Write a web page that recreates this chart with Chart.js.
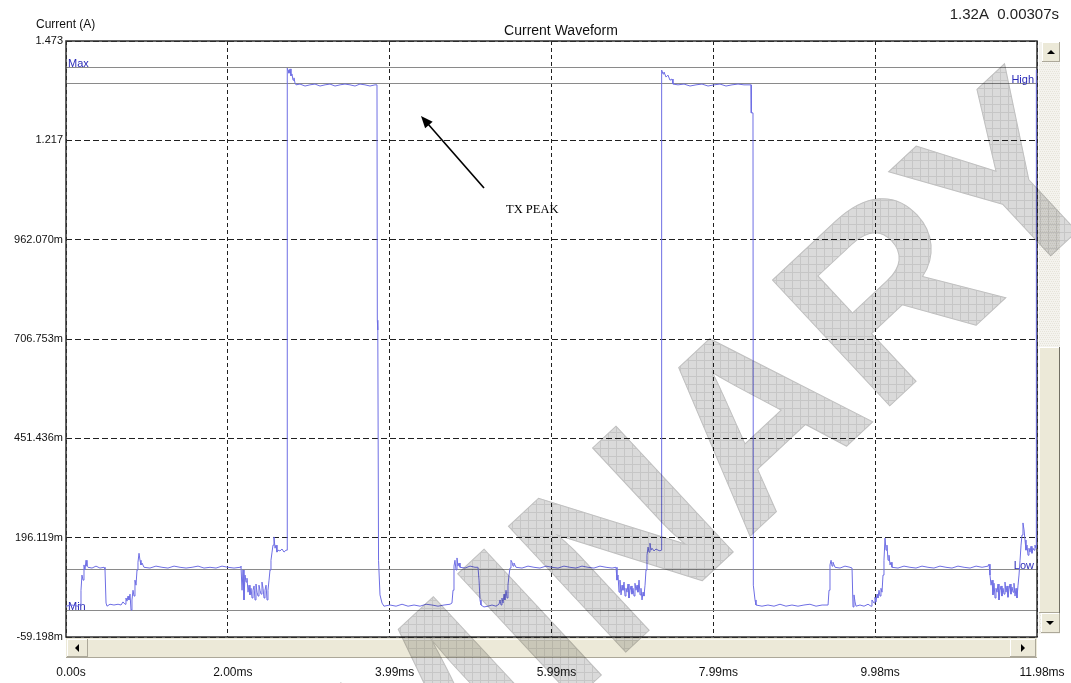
<!DOCTYPE html>
<html>
<head>
<meta charset="utf-8">
<title>Current Waveform</title>
<script src="https://cdn.jsdelivr.net/npm/chart.js@4.4.1/dist/chart.umd.min.js"></script>
<style>
  html, body { margin: 0; padding: 0; background: #fff; }
  canvas { display: block; }
</style>
</head>
<body>
<canvas id="scope" width="1071" height="683"></canvas>
<script>
// ---- captured samples: time (ms) and supply current (A) ----
const timeMs = [
  0.000, 0.074, 0.148, 0.173, 0.185, 0.197, 0.210, 0.222, 0.234, 0.247, 0.259, 0.271, 0.321, 0.370, 0.419, 0.469, 0.481,
  0.494, 0.506, 0.543, 0.592, 0.642, 0.679, 0.703, 0.728, 0.740, 0.753, 0.765, 0.777, 0.790, 0.802, 0.814, 0.827, 0.839,
  0.851, 0.864, 0.876, 0.888, 0.901, 0.913, 0.925, 0.938, 0.962, 1.036, 1.110, 1.184, 1.258, 1.333, 1.407, 1.481, 1.555,
  1.629, 1.703, 1.777, 1.851, 1.925, 1.999, 2.073, 2.147, 2.159, 2.172, 2.184, 2.196, 2.209, 2.221, 2.233, 2.246, 2.258,
  2.270, 2.283, 2.295, 2.307, 2.320, 2.332, 2.344, 2.357, 2.369, 2.381, 2.394, 2.406, 2.418, 2.431, 2.443, 2.455, 2.468,
  2.480, 2.492, 2.505, 2.517, 2.529, 2.542, 2.554, 2.566, 2.579, 2.591, 2.603, 2.616, 2.640, 2.665, 2.690, 2.714, 2.727,
  2.730, 2.739, 2.751, 2.764, 2.776, 2.788, 2.801, 2.813, 2.825, 2.838, 2.887, 2.949, 3.010, 3.072, 3.134, 3.196, 3.257,
  3.319, 3.381, 3.442, 3.504, 3.566, 3.627, 3.689, 3.751, 3.812, 3.837, 3.841, 3.847, 3.856, 3.874, 3.899, 3.923, 3.998,
  4.072, 4.146, 4.220, 4.294, 4.368, 4.442, 4.516, 4.590, 4.664, 4.738, 4.762, 4.775, 4.787, 4.799, 4.812, 4.824, 4.836,
  4.849, 4.861, 4.923, 4.985, 5.046, 5.083, 5.096, 5.108, 5.120, 5.157, 5.207, 5.256, 5.305, 5.342, 5.355, 5.367, 5.379,
  5.392, 5.404, 5.416, 5.429, 5.441, 5.453, 5.466, 5.478, 5.490, 5.503, 5.515, 5.527, 5.552, 5.626, 5.700, 5.774, 5.848,
  5.922, 5.996, 6.070, 6.144, 6.218, 6.292, 6.366, 6.440, 6.514, 6.588, 6.663, 6.737, 6.786, 6.798, 6.811, 6.823, 6.835,
  6.848, 6.860, 6.872, 6.885, 6.897, 6.909, 6.922, 6.934, 6.946, 6.959, 6.971, 6.983, 6.996, 7.008, 7.020, 7.033, 7.045,
  7.057, 7.070, 7.082, 7.094, 7.107, 7.119, 7.131, 7.144, 7.156, 7.168, 7.181, 7.193, 7.205, 7.218, 7.230, 7.255, 7.279,
  7.304, 7.329, 7.341, 7.345, 7.353, 7.366, 7.378, 7.403, 7.427, 7.452, 7.477, 7.489, 7.551, 7.625, 7.699, 7.773, 7.847,
  7.921, 7.995, 8.069, 8.143, 8.217, 8.291, 8.365, 8.439, 8.452, 8.455, 8.476, 8.480, 8.501, 8.513, 8.587, 8.661, 8.735,
  8.809, 8.883, 8.957, 9.031, 9.105, 9.179, 9.254, 9.328, 9.402, 9.414, 9.426, 9.439, 9.451, 9.463, 9.488, 9.550, 9.611,
  9.673, 9.698, 9.710, 9.722, 9.735, 9.747, 9.796, 9.846, 9.895, 9.932, 9.944, 9.969, 9.981, 9.994, 10.006, 10.018, 10.031,
  10.043, 10.055, 10.068, 10.080, 10.092, 10.105, 10.117, 10.129, 10.142, 10.154, 10.167, 10.179, 10.191, 10.265, 10.339,
  10.413, 10.487, 10.561, 10.635, 10.709, 10.783, 10.857, 10.931, 11.005, 11.080, 11.154, 11.228, 11.302, 11.376, 11.388,
  11.400, 11.413, 11.425, 11.437, 11.450, 11.462, 11.474, 11.487, 11.499, 11.511, 11.524, 11.536, 11.548, 11.561, 11.573,
  11.585, 11.598, 11.610, 11.622, 11.635, 11.647, 11.659, 11.672, 11.684, 11.696, 11.709, 11.721, 11.733, 11.746, 11.758,
  11.771, 11.783, 11.795, 11.807, 11.820, 11.832, 11.844, 11.857, 11.869, 11.881, 11.894, 11.906, 11.918, 11.931, 11.943,
  11.955, 11.968, 11.972, 11.980
];

const currentA = [
  0.020, 0.023, 0.020, 0.025, 0.061, 0.100, 0.087, 0.126, 0.113, 0.138, 0.123, 0.120, 0.118, 0.123, 0.118, 0.120, 0.115,
  0.028, 0.020, 0.025, 0.023, 0.025, 0.023, 0.031, 0.025, 0.041, 0.033, 0.046, 0.036, 0.051, 0.010, 0.036, 0.061, 0.046,
  0.087, 0.074, 0.113, 0.133, 0.156, 0.138, 0.126, 0.131, 0.120, 0.118, 0.123, 0.120, 0.118, 0.123, 0.120, 0.118, 0.120,
  0.123, 0.118, 0.120, 0.118, 0.123, 0.120, 0.118, 0.120, 0.123, 0.061, 0.113, 0.036, 0.100, 0.082, 0.092, 0.056, 0.074,
  0.049, 0.066, 0.041, 0.061, 0.072, 0.036, 0.077, 0.056, 0.046, 0.074, 0.061, 0.051, 0.082, 0.066, 0.041, 0.061, 0.074,
  0.036, 0.061, 0.087, 0.113, 0.138, 0.159, 0.177, 0.198, 0.169, 0.177, 0.159, 0.164, 0.162, 0.167, 0.159, 0.164, 0.164,
  1.403, 1.398, 1.390, 1.401, 1.383, 1.388, 1.372, 1.378, 1.365, 1.360, 1.362, 1.357, 1.360, 1.362, 1.357, 1.360, 1.362,
  1.357, 1.360, 1.362, 1.360, 1.357, 1.362, 1.360, 1.357, 1.360, 1.360, 0.755, 0.730, 0.138, 0.049, 0.028, 0.020, 0.023,
  0.020, 0.025, 0.020, 0.023, 0.020, 0.025, 0.023, 0.020, 0.023, 0.025, 0.028, 0.061, 0.123, 0.138, 0.113, 0.144, 0.123,
  0.131, 0.120, 0.118, 0.123, 0.120, 0.120, 0.087, 0.036, 0.023, 0.018, 0.020, 0.023, 0.020, 0.025, 0.036, 0.023, 0.041,
  0.028, 0.051, 0.036, 0.061, 0.041, 0.074, 0.100, 0.118, 0.138, 0.133, 0.123, 0.131, 0.120, 0.118, 0.123, 0.120, 0.118,
  0.123, 0.120, 0.118, 0.123, 0.120, 0.118, 0.123, 0.120, 0.118, 0.123, 0.120, 0.118, 0.120, 0.087, 0.100, 0.056, 0.087,
  0.049, 0.074, 0.061, 0.082, 0.046, 0.066, 0.056, 0.077, 0.041, 0.061, 0.072, 0.051, 0.066, 0.046, 0.079, 0.061, 0.074,
  0.056, 0.087, 0.049, 0.066, 0.036, 0.056, 0.046, 0.074, 0.113, 0.151, 0.172, 0.159, 0.182, 0.164, 0.169, 0.162, 0.167,
  0.164, 0.162, 0.164, 1.396, 1.398, 1.388, 1.393, 1.380, 1.385, 1.372, 1.375, 1.362, 1.360, 1.362, 1.357, 1.360, 1.362,
  1.357, 1.360, 1.362, 1.357, 1.360, 1.362, 1.360, 1.360, 1.360, 1.288, 1.288, 0.074, 0.036, 0.023, 0.020, 0.023, 0.020,
  0.025, 0.020, 0.023, 0.020, 0.023, 0.025, 0.020, 0.023, 0.023, 0.061, 0.126, 0.138, 0.123, 0.133, 0.120, 0.118, 0.123,
  0.120, 0.118, 0.018, 0.049, 0.031, 0.020, 0.023, 0.020, 0.025, 0.020, 0.036, 0.028, 0.043, 0.031, 0.051, 0.041, 0.061,
  0.046, 0.066, 0.056, 0.100, 0.138, 0.195, 0.164, 0.177, 0.138, 0.151, 0.126, 0.133, 0.120, 0.118, 0.123,
  0.120, 0.118, 0.123, 0.120, 0.118, 0.123, 0.120, 0.118, 0.123, 0.120, 0.118, 0.123, 0.120, 0.123, 0.128,
  0.100, 0.074, 0.087, 0.049, 0.079, 0.041, 0.066, 0.056, 0.077, 0.036, 0.061, 0.072, 0.046, 0.066, 0.051,
  0.082, 0.056, 0.072, 0.043, 0.064, 0.077, 0.051, 0.069, 0.056, 0.079, 0.046, 0.066, 0.041, 0.074, 0.100,
  0.138, 0.177, 0.203, 0.234, 0.216, 0.190, 0.164, 0.177, 0.151, 0.169, 0.159, 0.174, 0.156, 0.169, 0.164,
  0.177, 0.169, 1.398, 1.398
];

// ---- axes ----
const xMinMs = 0;
const xMaxMs = 11.98;
const xTickValues = [0, 1.99667, 3.99333, 5.99, 7.98667, 9.98333, 11.98];
const xTickLabels = ['0.00s', '2.00ms', '3.99ms', '5.99ms', '7.99ms', '9.98ms', '11.98ms'];

const yMinA = -0.059198;
const yMaxA = 1.472704;
const yTickValues = [-0.059198, 0.196119, 0.451436, 0.706753, 0.962070, 1.217387, 1.472704];
const yTickLabels = ['-59.198m', '196.119m', '451.436m', '706.753m', '962.070m', '1.217', '1.473'];

// ---- measurement marker levels ----
const levelNames = ['Max', 'High', 'Low', 'Min'];
const levelValues = [1.406, 1.365, 0.115, 0.010];
const levelLabelSide = ['left', 'right', 'right', 'left'];

// ---- captions ----
const chartTitle = 'Current Waveform';
const yAxisTitle = 'Current (A)';
const cursorReadout = '1.32A  0.00307s';
const annotationText = 'TX PEAK';
const watermarkText = 'PRELIMINARY';

const UI_FONT = '"Liberation Sans", Arial, sans-serif';

// Windows-style 3D button face
function bevelBox(ctx, x, y, w, h) {
  ctx.fillStyle = '#ece9d8';
  ctx.fillRect(x, y, w, h);
  ctx.fillStyle = '#ffffff';
  ctx.fillRect(x, y, w, 1);
  ctx.fillRect(x, y, 1, h);
  ctx.fillStyle = '#aca899';
  ctx.fillRect(x, y + h - 1, w, 1);
  ctx.fillRect(x + w - 1, y, 1, h);
}

function triangle(ctx, cx, cy, dir) {
  ctx.fillStyle = '#000';
  ctx.beginPath();
  if (dir === 'up') { ctx.moveTo(cx - 4, cy + 2); ctx.lineTo(cx + 4, cy + 2); ctx.lineTo(cx, cy - 2); }
  if (dir === 'down') { ctx.moveTo(cx - 4, cy - 2); ctx.lineTo(cx + 4, cy - 2); ctx.lineTo(cx, cy + 2); }
  if (dir === 'left') { ctx.moveTo(cx + 2, cy - 4); ctx.lineTo(cx + 2, cy + 4); ctx.lineTo(cx - 2, cy); }
  if (dir === 'right') { ctx.moveTo(cx - 2, cy - 4); ctx.lineTo(cx - 2, cy + 4); ctx.lineTo(cx + 2, cy); }
  ctx.closePath();
  ctx.fill();
}

const scopeDecor = {
  id: 'scopeDecor',
  beforeDatasetsDraw(chart) {
    const { ctx, chartArea: a, scales: { y } } = chart;
    ctx.save();
    // marker level lines
    ctx.strokeStyle = '#8a8a8a';
    ctx.lineWidth = 1.2;
    levelValues.forEach(v => {
      const py = Math.round(y.getPixelForValue(v)) + 0.5;
      ctx.beginPath();
      ctx.moveTo(a.left, py);
      ctx.lineTo(a.right, py);
      ctx.stroke();
    });
    ctx.font = '11px ' + UI_FONT;
    ctx.fillStyle = '#2a2ab8';
    ctx.textBaseline = 'alphabetic';
    levelNames.forEach((name, i) => {
      const py = Math.round(y.getPixelForValue(levelValues[i]));
      if (levelLabelSide[i] === 'right') {
        ctx.textAlign = 'right';
        ctx.fillText(name, a.right - 3, py);
      } else {
        ctx.textAlign = 'left';
        ctx.fillText(name, a.left + 2, py);
      }
    });
    // plot frame
    ctx.strokeStyle = '#303030';
    ctx.lineWidth = 1.5;
    ctx.strokeRect(a.left, a.top, a.right - a.left, a.bottom - a.top);
    ctx.restore();
  },
  afterDraw(chart) {
    const { ctx, chartArea: a, width, height } = chart;
    ctx.save();

    // horizontal scroll bar
    const hy = a.bottom + 1, hh = 20;
    ctx.fillStyle = '#ece9d8';
    ctx.fillRect(a.left, hy, a.right - a.left, hh);
    ctx.fillStyle = '#fbfaf6';
    ctx.fillRect(a.left + 22, hy + 1, a.right - a.left - 49, 1);
    ctx.fillStyle = '#aca899';
    ctx.fillRect(a.left, hy + hh - 1, a.right - a.left, 1);
    bevelBox(ctx, a.left + 1, hy + 1, 21, hh - 2);
    triangle(ctx, a.left + 11, hy + hh / 2, 'left');
    bevelBox(ctx, a.right - 27, hy + 1, 26, hh - 2);
    triangle(ctx, a.right - 14, hy + hh / 2, 'right');

    // vertical scroll bar
    const vx = a.right + 2, vw = 21;
    ctx.fillStyle = '#f4f3ee';
    ctx.fillRect(vx, a.top + 1, vw, a.bottom - a.top - 4);
    ctx.fillStyle = '#e6e4da';
    for (let yy = a.top + 22; yy < a.bottom - 4; yy += 2) {
      for (let xx = vx + ((yy >> 1) & 1); xx < vx + vw; xx += 2) ctx.fillRect(xx, yy, 1, 1);
    }
    bevelBox(ctx, vx + 3, a.top + 1, 18, 20);
    triangle(ctx, vx + 12, a.top + 11, 'up');
    bevelBox(ctx, vx, 347, vw, 266);
    ctx.fillStyle = '#716f64';
    ctx.fillRect(vx + vw - 1, 347, 1, 266);
    bevelBox(ctx, vx + 2, 613, 19, 20);
    triangle(ctx, vx + 11, 623, 'down');

    // captions
    ctx.fillStyle = '#111';
    ctx.textBaseline = 'middle';
    ctx.textAlign = 'left';
    ctx.font = '12px ' + UI_FONT;
    ctx.fillText(yAxisTitle, 36, 25);
    ctx.textAlign = 'center';
    ctx.font = '14px ' + UI_FONT;
    ctx.fillText(chartTitle, 561, 31);
    ctx.textAlign = 'right';
    ctx.font = '15px ' + UI_FONT;
    ctx.fillStyle = '#222';
    ctx.fillText(cursorReadout, 1059, 15);

    // annotation with arrow
    ctx.fillStyle = '#000';
    ctx.textAlign = 'left';
    ctx.font = '12.5px "Liberation Serif", "Times New Roman", serif';
    ctx.fillText(annotationText, 506, 210);
    const x0 = 484, y0 = 188, x1 = 421, y1 = 116;
    const ang = Math.atan2(y1 - y0, x1 - x0);
    ctx.strokeStyle = '#000';
    ctx.lineWidth = 1.6;
    ctx.beginPath();
    ctx.moveTo(x0, y0);
    ctx.lineTo(x1 - 6 * Math.cos(ang), y1 - 6 * Math.sin(ang));
    ctx.stroke();
    ctx.beginPath();
    ctx.moveTo(x1, y1);
    ctx.lineTo(x1 - 12 * Math.cos(ang) + 5 * Math.sin(ang), y1 - 12 * Math.sin(ang) - 5 * Math.cos(ang));
    ctx.lineTo(x1 - 12 * Math.cos(ang) - 5 * Math.sin(ang), y1 - 12 * Math.sin(ang) + 5 * Math.cos(ang));
    ctx.closePath();
    ctx.fill();

    // hatched watermark lettering
    const wm = document.createElement('canvas');
    wm.width = width; wm.height = height;
    const w = wm.getContext('2d');
    const place = (g) => { g.translate(-128, 1355); g.rotate(-43 * Math.PI / 180); g.font = 'bold 250px ' + UI_FONT; };
    w.save();
    place(w);
    w.fillStyle = '#dadada';
    w.fillText(watermarkText, 0, 0);
    w.restore();
    w.globalCompositeOperation = 'source-atop';
    w.fillStyle = '#c6c6c6';
    for (let gx = 0; gx < width; gx += 8) w.fillRect(gx, 0, 1, height);
    for (let gy = 0; gy < height; gy += 8) w.fillRect(0, gy, width, 1);
    w.globalCompositeOperation = 'source-over';
    w.save();
    place(w);
    w.strokeStyle = '#c0c0c0';
    w.lineWidth = 1;
    w.strokeText(watermarkText, 0, 0);
    w.restore();
    ctx.globalCompositeOperation = 'multiply';
    ctx.drawImage(wm, 0, 0);
    ctx.restore();
  }
};

new Chart(document.getElementById('scope'), {
  type: 'line',
  data: {
    datasets: [{
      label: 'Current',
      data: timeMs.map((t, i) => ({ x: t, y: currentA[i] })),
      borderColor: '#6e6ee4',
      borderWidth: 1,
      pointRadius: 0,
      tension: 0,
      fill: false
    }]
  },
  options: {
    responsive: false,
    animation: false,
    devicePixelRatio: 1,
    layout: { padding: { top: 41, right: 34, left: 0, bottom: 0 } },
    plugins: { legend: { display: false }, tooltip: { enabled: false }, title: { display: false } },
    scales: {
      x: {
        type: 'linear',
        min: xMinMs,
        max: xMaxMs,
        afterFit(scale) { scale.height = 46; scale.paddingLeft = 0; scale.paddingRight = 0; },
        afterBuildTicks(scale) { scale.ticks = xTickValues.map(v => ({ value: v })); },
        ticks: {
          callback: (v, i) => xTickLabels[i],
          autoSkip: false,
          maxRotation: 0,
          padding: 28,
          labelOffset: 5,
          color: '#111',
          font: { family: UI_FONT, size: 12 }
        },
        grid: { color: '#202020', lineWidth: 1, drawTicks: false },
        border: { display: false, dash: [4, 3] }
      },
      y: {
        type: 'linear',
        min: yMinA,
        max: yMaxA,
        afterFit(scale) { scale.width = 66; scale.paddingTop = 0; scale.paddingBottom = 0; },
        afterBuildTicks(scale) { scale.ticks = yTickValues.map(v => ({ value: v })); },
        ticks: {
          callback: (v, i) => yTickLabels[i],
          autoSkip: false,
          padding: 3,
          color: '#111',
          font: { family: UI_FONT, size: 11 }
        },
        grid: { color: '#202020', lineWidth: 1, drawTicks: false },
        border: { display: false, dash: [6, 3] }
      }
    }
  },
  plugins: [scopeDecor]
});
</script>
</body>
</html>
